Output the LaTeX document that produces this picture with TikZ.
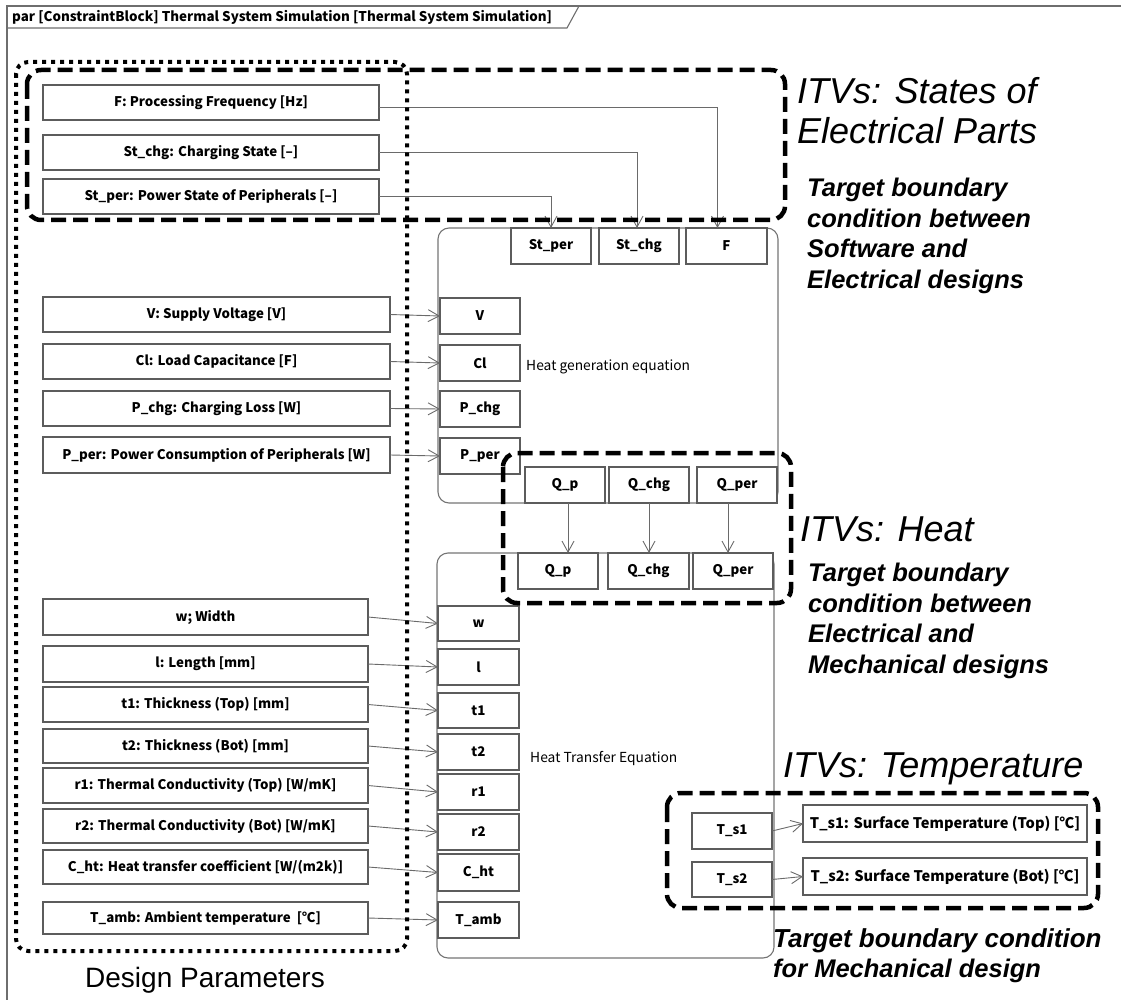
\documentclass[tikz,border=0pt]{standalone}
\usepackage{fontspec}
\setmainfont{Liberation Sans}
\newfontfamily\jp{Noto Sans CJK JP}
\usetikzlibrary{arrows.meta}

\definecolor{edge}{HTML}{5C5C5C}
\definecolor{wire}{HTML}{6A6A6A}
\definecolor{frameline}{HTML}{6E6E6E}

\tikzset{
  x=1pt, y=-1pt,
  param/.style={draw=edge, line width=1.1pt, fill=white, inner sep=0pt, outer sep=0pt,
    anchor=north west, font=\jp\bfseries\fontsize{13.3}{15}\selectfont},
  blockbox/.style={draw=edge!85, line width=1.1pt, rounded corners=11pt, inner sep=0pt,
    outer sep=0pt, anchor=north west},
  conn/.style={draw=wire, line width=0.9pt,
    -{Straight Barb[length=11pt,width=12pt,line width=0.9pt]}},
  itvgroup/.style={draw=black, line width=4.5pt, dash pattern=on 15pt off 7pt,
    rounded corners=14pt},
  paramgroup/.style={draw=black, line width=4pt, dash pattern=on 4pt off 5pt,
    rounded corners=12pt},
  itvtitle/.style={inner sep=0pt, align=left, font=\itshape\fontsize{36}{40}\selectfont},
  target/.style={inner sep=0pt, align=left,
    font=\bfseries\itshape\fontsize{25.5}{30.5}\selectfont},
  eqtext/.style={inner sep=0pt, anchor=west, font=\jp\fontsize{13.8}{16}\selectfont}
}

% box from its top-left and bottom-right corners
\newcommand\mkbox[6]{%
  \node[param, minimum width={#4pt-#2pt}, minimum height={#5pt-#3pt}] (#1) at (#2,#3) {#6};}

\begin{document}
\begin{tikzpicture}
\useasboundingbox (0,0) rectangle (1121,1000);

% diagram frame and header tab
\draw[frameline, line width=1.3pt] (7,1005) -- (7,6) -- (1125,6);
\draw[frameline, line width=1.1pt] (7,28) -- (567,28) -- (579,6);
\node[anchor=west, inner sep=0pt, font=\jp\bfseries\fontsize{13.4}{15}\selectfont] (hdr) at (12,17)
  {par [ConstraintBlock] Thermal System Simulation [Thermal System Simulation]};

% constraint blocks
\node[blockbox, minimum width=340pt, minimum height=275pt] (hg) at (438,228) {};
\node[blockbox, minimum width=337pt, minimum height=405pt] (ht) at (437,553) {};
\node[eqtext] (hgtxt) at (526,367) {Heat generation equation};
\node[eqtext] (httxt) at (530,758) {Heat Transfer Equation};

% design parameters
\mkbox{pF}{43}{85}{379}{120}{F: Processing Frequency [Hz]}
\mkbox{pSc}{43}{135}{379}{170}{St\_chg: Charging State [–]}
\mkbox{pSp}{43}{179}{379}{214}{St\_per: Power State of Peripherals [–]}
\mkbox{pV}{43}{297}{390}{332}{V: Supply Voltage [V]}
\mkbox{pCl}{43}{344}{390}{379}{Cl: Load Capacitance [F]}
\mkbox{pPc}{43}{391}{390}{426}{P\_chg: Charging Loss [W]}
\mkbox{pPp}{43}{437}{390}{473}{P\_per: Power Consumption of Peripherals [W]}
\mkbox{pW}{43}{599}{368}{635}{w; Width}
\mkbox{pL}{43}{646}{368}{682}{l: Length [mm]}
\mkbox{pT1}{43}{687}{368}{722}{t1: Thickness (Top) [mm]}
\mkbox{pT2}{43}{729}{368}{763}{t2: Thickness (Bot) [mm]}
\mkbox{pR1}{43}{768}{368}{803}{r1: Thermal Conductivity (Top) [W/mK]}
\mkbox{pR2}{43}{809}{368}{843}{r2: Thermal Conductivity (Bot) [W/mK]}
\mkbox{pCh}{43}{850}{368}{884}{C\_ht: Heat transfer coefficient [W/(m2k)]}
\mkbox{pTa}{43}{902}{368}{934}{T\_amb: Ambient temperature~~[℃]}

% ports of the heat generation block
\mkbox{hSp}{511}{228}{591}{264}{St\_per}
\mkbox{hSc}{599}{228}{679}{264}{St\_chg}
\mkbox{hF}{686}{228}{767}{264}{F}
\mkbox{hV}{440}{298}{520}{334}{V}
\mkbox{hCl}{440}{345}{520}{381}{Cl}
\mkbox{hPc}{440}{391}{520}{427}{P\_chg}
\mkbox{hPp}{440}{438}{520}{474}{P\_per}
\mkbox{hq1}{525}{467}{605}{503}{Q\_p}
\mkbox{hq2}{609}{467}{689}{503}{Q\_chg}
\mkbox{hq3}{697}{467}{777}{503}{Q\_per}

% ports of the heat transfer block
\mkbox{tq1}{518}{553}{598}{589}{Q\_p}
\mkbox{tq2}{608}{553}{689}{589}{Q\_chg}
\mkbox{tq3}{693}{553}{773}{589}{Q\_per}
\mkbox{tW}{438}{606}{519}{641}{w}
\mkbox{tL}{438}{649}{519}{685}{l}
\mkbox{tT1}{438}{693}{519}{728}{t1}
\mkbox{tT2}{438}{734}{519}{770}{t2}
\mkbox{tR1}{438}{774}{519}{810}{r1}
\mkbox{tR2}{438}{814}{519}{850}{r2}
\mkbox{tCh}{438}{854}{519}{891}{C\_ht}
\mkbox{tTa}{438}{902}{519}{938}{T\_amb}
\mkbox{ts1}{692}{813}{772}{849}{T\_s1}
\mkbox{ts2}{692}{862}{772}{897}{T\_s2}

% output temperatures
\mkbox{oT1}{803}{805}{1087}{842}{\fontsize{14.6}{16}\selectfont T\_s1: Surface Temperature (Top) [℃]}
\mkbox{oT2}{803}{858}{1087}{895}{\fontsize{14.6}{16}\selectfont T\_s2: Surface Temperature (Bot) [℃]}

% binding connectors
\draw[conn] ([yshift=-5pt]pF.east) -| ([xshift=-9pt]hF.north);
\draw[conn] (pSc.east) -| ([xshift=-2pt]hSc.north);
\draw[conn] (pSp.east) -| (hSp.north);
\draw[conn] (pV.east) -- (hV.west);
\draw[conn] (pCl.east) -- (hCl.west);
\draw[conn] (pPc.east) -- (hPc.west);
\draw[conn] (pPp.east) -- (hPp.west);
\draw[conn] (pW.east) -- (tW.west);
\draw[conn] (pL.east) -- (tL.west);
\draw[conn] (pT1.east) -- (tT1.west);
\draw[conn] (pT2.east) -- (tT2.west);
\draw[conn] (pR1.east) -- (tR1.west);
\draw[conn] (pR2.east) -- (tR2.west);
\draw[conn] (pCh.east) -- (tCh.west);
\draw[conn] (pTa.east) -- (tTa.west);
\coordinate (qa) at ([xshift=3pt]hq1.south);
\coordinate (qb) at (hq2.south);
\coordinate (qc) at ([xshift=-9pt]hq3.south);
\draw[conn] (qa) -- (qa |- tq1.north);
\draw[conn] (qb) -- (qb |- tq2.north);
\draw[conn] (qc) -- (qc |- tq3.north);
\draw[conn] (ts1.east) -- (oT1.west);
\draw[conn] (ts2.east) -- (oT2.west);

% interface groups
\draw[itvgroup] (27,70) rectangle (785,220);
\draw[itvgroup] (503,453) rectangle (791,603);
\draw[itvgroup] (667,793) rectangle (1098,908);
\draw[paramgroup] (16,62) rectangle (407,951);

% annotations
\node[itvtitle, anchor=north west] (itvA) at (797,77) {ITVs: States of\\Electrical Parts};
\node[target, anchor=north west] (tgA) at (807,178)
  {Target boundary\\condition between\\Software and\\Electrical designs};
\node[itvtitle, anchor=base west] (itvB) at (800,541) {ITVs: Heat};
\node[target, anchor=north west] (tgB) at (808,563)
  {Target boundary\\condition between\\Electrical and\\Mechanical designs};
\node[itvtitle, anchor=base west] (itvC) at (783,777) {ITVs: Temperature};
\node[target, anchor=north west] (tgC) at (773,928)
  {\fontsize{26}{30}\selectfont Target boundary condition\\for Mechanical design};
\node[inner sep=0pt, anchor=base west, font=\fontsize{28}{32}\selectfont] (dp) at (85,987)
  {Design Parameters};
\end{tikzpicture}
\end{document}
